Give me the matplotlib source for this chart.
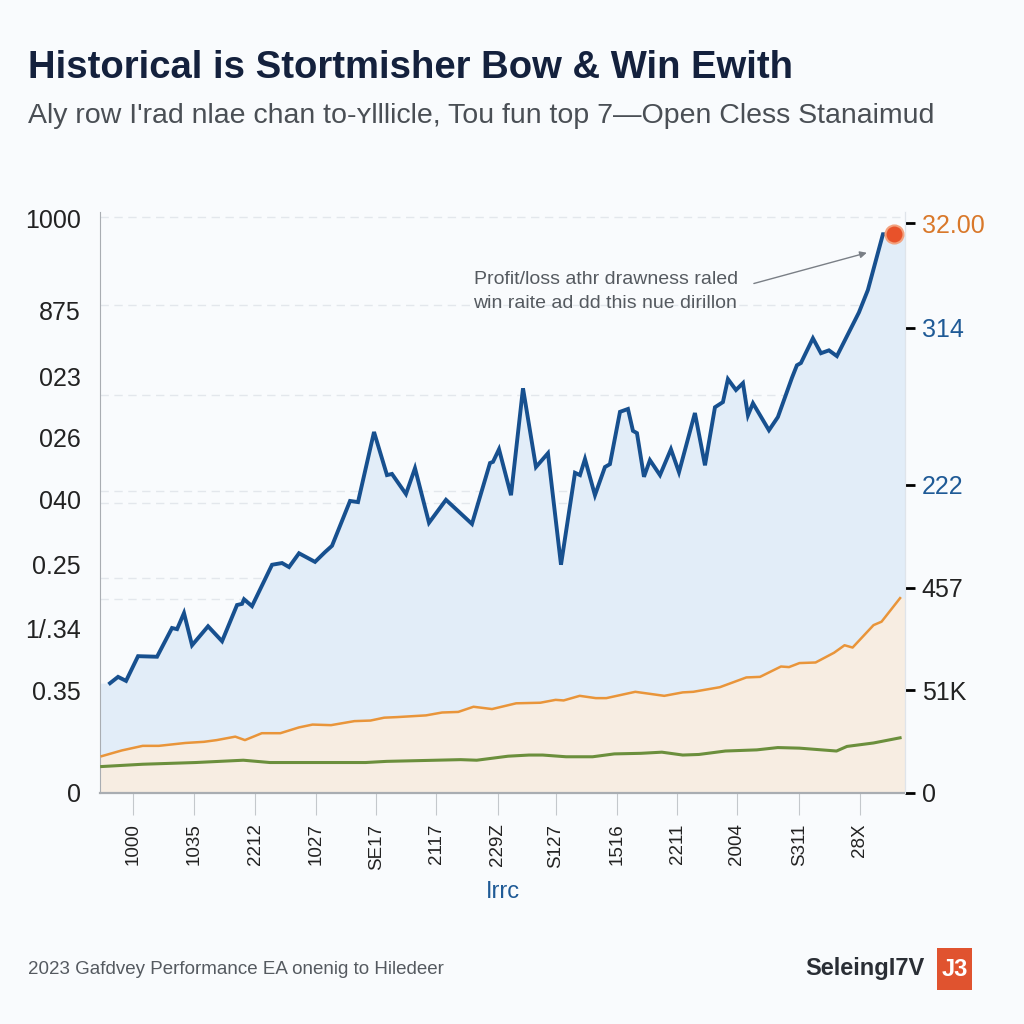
import numpy as np
import matplotlib
matplotlib.use("Agg")
import matplotlib.pyplot as plt
from matplotlib.patches import FancyBboxPatch

plt.rcParams["font.family"] = ["Liberation Sans", "DejaVu Sans"]

# blue series: profit / loss curve
blue_x = [1.24, 2.24, 3.23, 4.72, 7.08, 8.94, 9.57, 10.43, 11.43, 13.42, 15.16, 17.02,
          17.64, 17.89, 18.88, 21.37, 22.61, 23.48, 24.72, 26.71, 27.95, 28.82, 31.06,
          32.05, 34.04, 35.65, 36.27, 38.01, 39.13, 40.87, 42.98, 46.21, 48.45, 48.82,
          49.57, 51.06, 52.55, 54.16, 55.65, 57.27, 59.01, 59.63, 60.25, 61.49, 62.73,
          63.35, 64.60, 65.59, 66.21, 66.71, 67.58, 68.32, 69.57, 70.93, 71.93, 73.91,
          75.16, 76.40, 77.39, 78.01, 79.01, 79.88, 80.50, 81.12, 83.11, 84.22, 85.96,
          86.58, 87.08, 88.57, 89.57, 90.56, 91.55, 94.29, 95.40, 97.27, 98.63]
blue_y = [191, 202, 195, 238, 237, 287, 285, 313, 257, 290, 264, 327,
          329, 337, 325, 397, 400, 393, 417, 402, 419, 430, 508,
          506, 628, 553, 555, 520, 565, 470, 510, 468, 574, 576,
          598, 518, 704, 567, 591, 397, 557, 553, 581, 518, 567,
          572, 663, 668, 630, 626, 550, 579, 553, 598, 558, 661,
          570, 671, 680, 720, 701, 713, 657, 678, 631, 654, 722,
          744, 748, 791, 765, 770, 760, 836, 875, 972, 972]

# orange series
orange_x = [0.2, 2.7, 5.3, 7.3, 10.6, 12.9, 14.5, 16.8, 18.0, 20.1, 22.4, 24.7, 26.4,
            28.7, 31.6, 33.6, 35.3, 36.9, 40.5, 42.5, 44.5, 46.4, 48.7, 51.7, 54.7,
            56.6, 57.6, 59.6, 61.6, 62.9, 66.5, 70.1, 72.4, 73.7, 77.0, 80.3, 82.0,
            84.6, 85.6, 86.9, 88.9, 91.2, 92.5, 93.5, 96.1, 97.1, 99.4]
orange_y = [64, 74, 82, 82, 87, 89, 92, 98, 92, 104, 104, 114, 119,
            118, 125, 126, 131, 132, 135, 140, 141, 150, 146, 156, 157,
            162, 161, 169, 165, 165, 176, 169, 175, 176, 184, 201, 202,
            220, 219, 226, 227, 244, 257, 253, 292, 298, 339]

# green series
green_x = [0.2, 5.3, 11.9, 17.8, 21.1, 26.4, 33.0, 35.6, 44.8, 46.8, 50.7, 53.3, 55.0,
           57.9, 61.2, 63.9, 67.2, 69.8, 72.4, 74.4, 77.7, 81.6, 84.2, 86.9, 91.5,
           92.8, 96.1, 99.4]
green_y = [46, 50, 53, 57, 53, 53, 53, 55, 58, 57, 64, 66, 66,
           63, 63, 68, 69, 71, 66, 67, 73, 75, 79, 78, 73,
           81, 87, 96]

left_ticks = [1000, 840, 725, 619, 510, 397, 287, 179, 0]
left_labels = ["1000", "875", "023", "026", "040", "0.25", "1/.34", "0.35", "0"]
right_ticks = [991, 809, 536, 357, 179, 0]
right_labels = ["32.00", "314", "222", "457", "51K", "0"]
right_colors = ["#d9782a", "#1f5a96", "#1f5a96", "#222222", "#222222", "#222222"]
x_ticks = [4.15, 11.7, 19.3, 26.8, 34.3, 41.8, 49.4, 56.6, 64.2, 71.7, 79.1, 86.9, 94.4]
x_labels = ["1000", "1035", "2212", "1027", "SE17", "2117", "229Z", "S127",
            "1516", "2211", "2004", "S311", "28X"]
grid_levels = [1002, 849, 692, 525, 504, 374, 337, 179, 12]

BG = "#f9fbfd"
BLUE = "#17508f"

fig = plt.figure(figsize=(10.24, 10.24), dpi=100, facecolor=BG)
ax = fig.add_axes([0.0977, 0.2256, 0.786, 0.567], facecolor=BG)
ax.set_xlim(0, 100)
ax.set_ylim(0, 1010)

for g in grid_levels:
    ax.axhline(g, color="#e3e7ec", lw=1.0, ls=(0, (6, 4)), zorder=0.5)

# fills
fx = np.r_[0, blue_x, 100]
fy = np.r_[blue_y[0], blue_y, blue_y[-1]]
ax.fill_between(fx, 0, fy, color="#e2edf8", lw=0, zorder=1)
ox = np.r_[0, orange_x, 100]
oy = np.r_[orange_y[0], orange_y, orange_y[-1]]
ax.fill_between(ox, 0, oy, color="#f7ede2", lw=0, zorder=2)

ax.plot(green_x, green_y, color="#6b8f3c", lw=2.2, zorder=3)
ax.plot(orange_x, orange_y, color="#e9953a", lw=1.8, zorder=4)
ax.plot(blue_x, blue_y, color=BLUE, lw=2.8, zorder=5, solid_joinstyle="miter")
ax.plot(blue_x[-1], blue_y[-1], "o", ms=13, color="#e8522a", mec="#f3a27f",
        mew=1.5, zorder=6)

# annotation
ax.text(46.4, 872, "Profit/loss athr drawness raled\nwin raite ad dd this nue dirillon",
        fontsize=14, color="#555a60", va="center", ha="left", linespacing=1.55,
        zorder=7)
ax.annotate("", xy=(95.6, 941), xytext=(80.9, 885),
            arrowprops=dict(arrowstyle="-|>", color="#7a7f86", lw=1.0,
                            mutation_scale=10), zorder=7)

# spines
ax.spines["top"].set_visible(False)
ax.spines["left"].set_color("#a9adb2")
ax.spines["bottom"].set_color("#a9adb2")
ax.spines["bottom"].set_linewidth(1.6)
ax.spines["right"].set_color("#dfe4ea")

ax.set_yticks(left_ticks)
ax.set_yticklabels(left_labels)
ax.tick_params(axis="y", length=0, pad=14, labelsize=18, labelcolor="#222222")
ax.set_xticks(x_ticks)
ax.set_xticklabels(x_labels, rotation=90)
ax.tick_params(axis="x", length=16, width=0.8, color="#c4c8cc", pad=6,
               labelsize=13.5, labelcolor="#222222")
ax.set_xlabel("Irrc", fontsize=17, color="#1f5a96", labelpad=8, fontweight="medium")

ax2 = ax.twinx()
ax2.set_ylim(ax.get_ylim())
ax2.set_yticks(right_ticks)
ax2.set_yticklabels(right_labels)
ax2.tick_params(axis="y", length=7, width=2, pad=5, labelsize=18)
for t, c in zip(ax2.yaxis.get_major_ticks(), right_colors):
    t.label2.set_color(c)
    t.tick2line.set_color(c)
for s in ["top", "left", "bottom"]:
    ax2.spines[s].set_visible(False)
ax2.spines["right"].set_color("#dfe4ea")

# titles
fig.text(0.027, 1 - 68 / 1024, "Historical is Stortmisher Bow & Win Ewith",
         fontsize=27.5, fontweight="bold", color="#14213d", va="center")
fig.text(0.027, 1 - 116 / 1024,
         "Aly row I'rad nlae chan to-\u028flllicle, Tou fun top 7\u2014Open Cless Stanaimud",
         fontsize=20.5, color="#4a4f55", va="center")

# footer
fig.text(0.027, 1 - 970 / 1024, "2023 Gafdvey Performance EA onenig to Hiledeer",
         fontsize=13.5, color="#555a60", va="center")
fig.text(0.903, 1 - 968 / 1024, "SeleingI7V", fontsize=17, fontweight="bold",
         color="#2a2e35", va="center", ha="right")
box = FancyBboxPatch((937 / 1024, 1 - 990 / 1024), 35 / 1024, 42 / 1024,
                     boxstyle="square,pad=0", transform=fig.transFigure,
                     facecolor="#e0532f", edgecolor="none")
fig.patches.append(box)
fig.text(954.5 / 1024, 1 - 969 / 1024, "J3", fontsize=17, fontweight="bold",
         color="white", va="center", ha="center")

fig.savefig("out.png", dpi=100, facecolor=BG)
